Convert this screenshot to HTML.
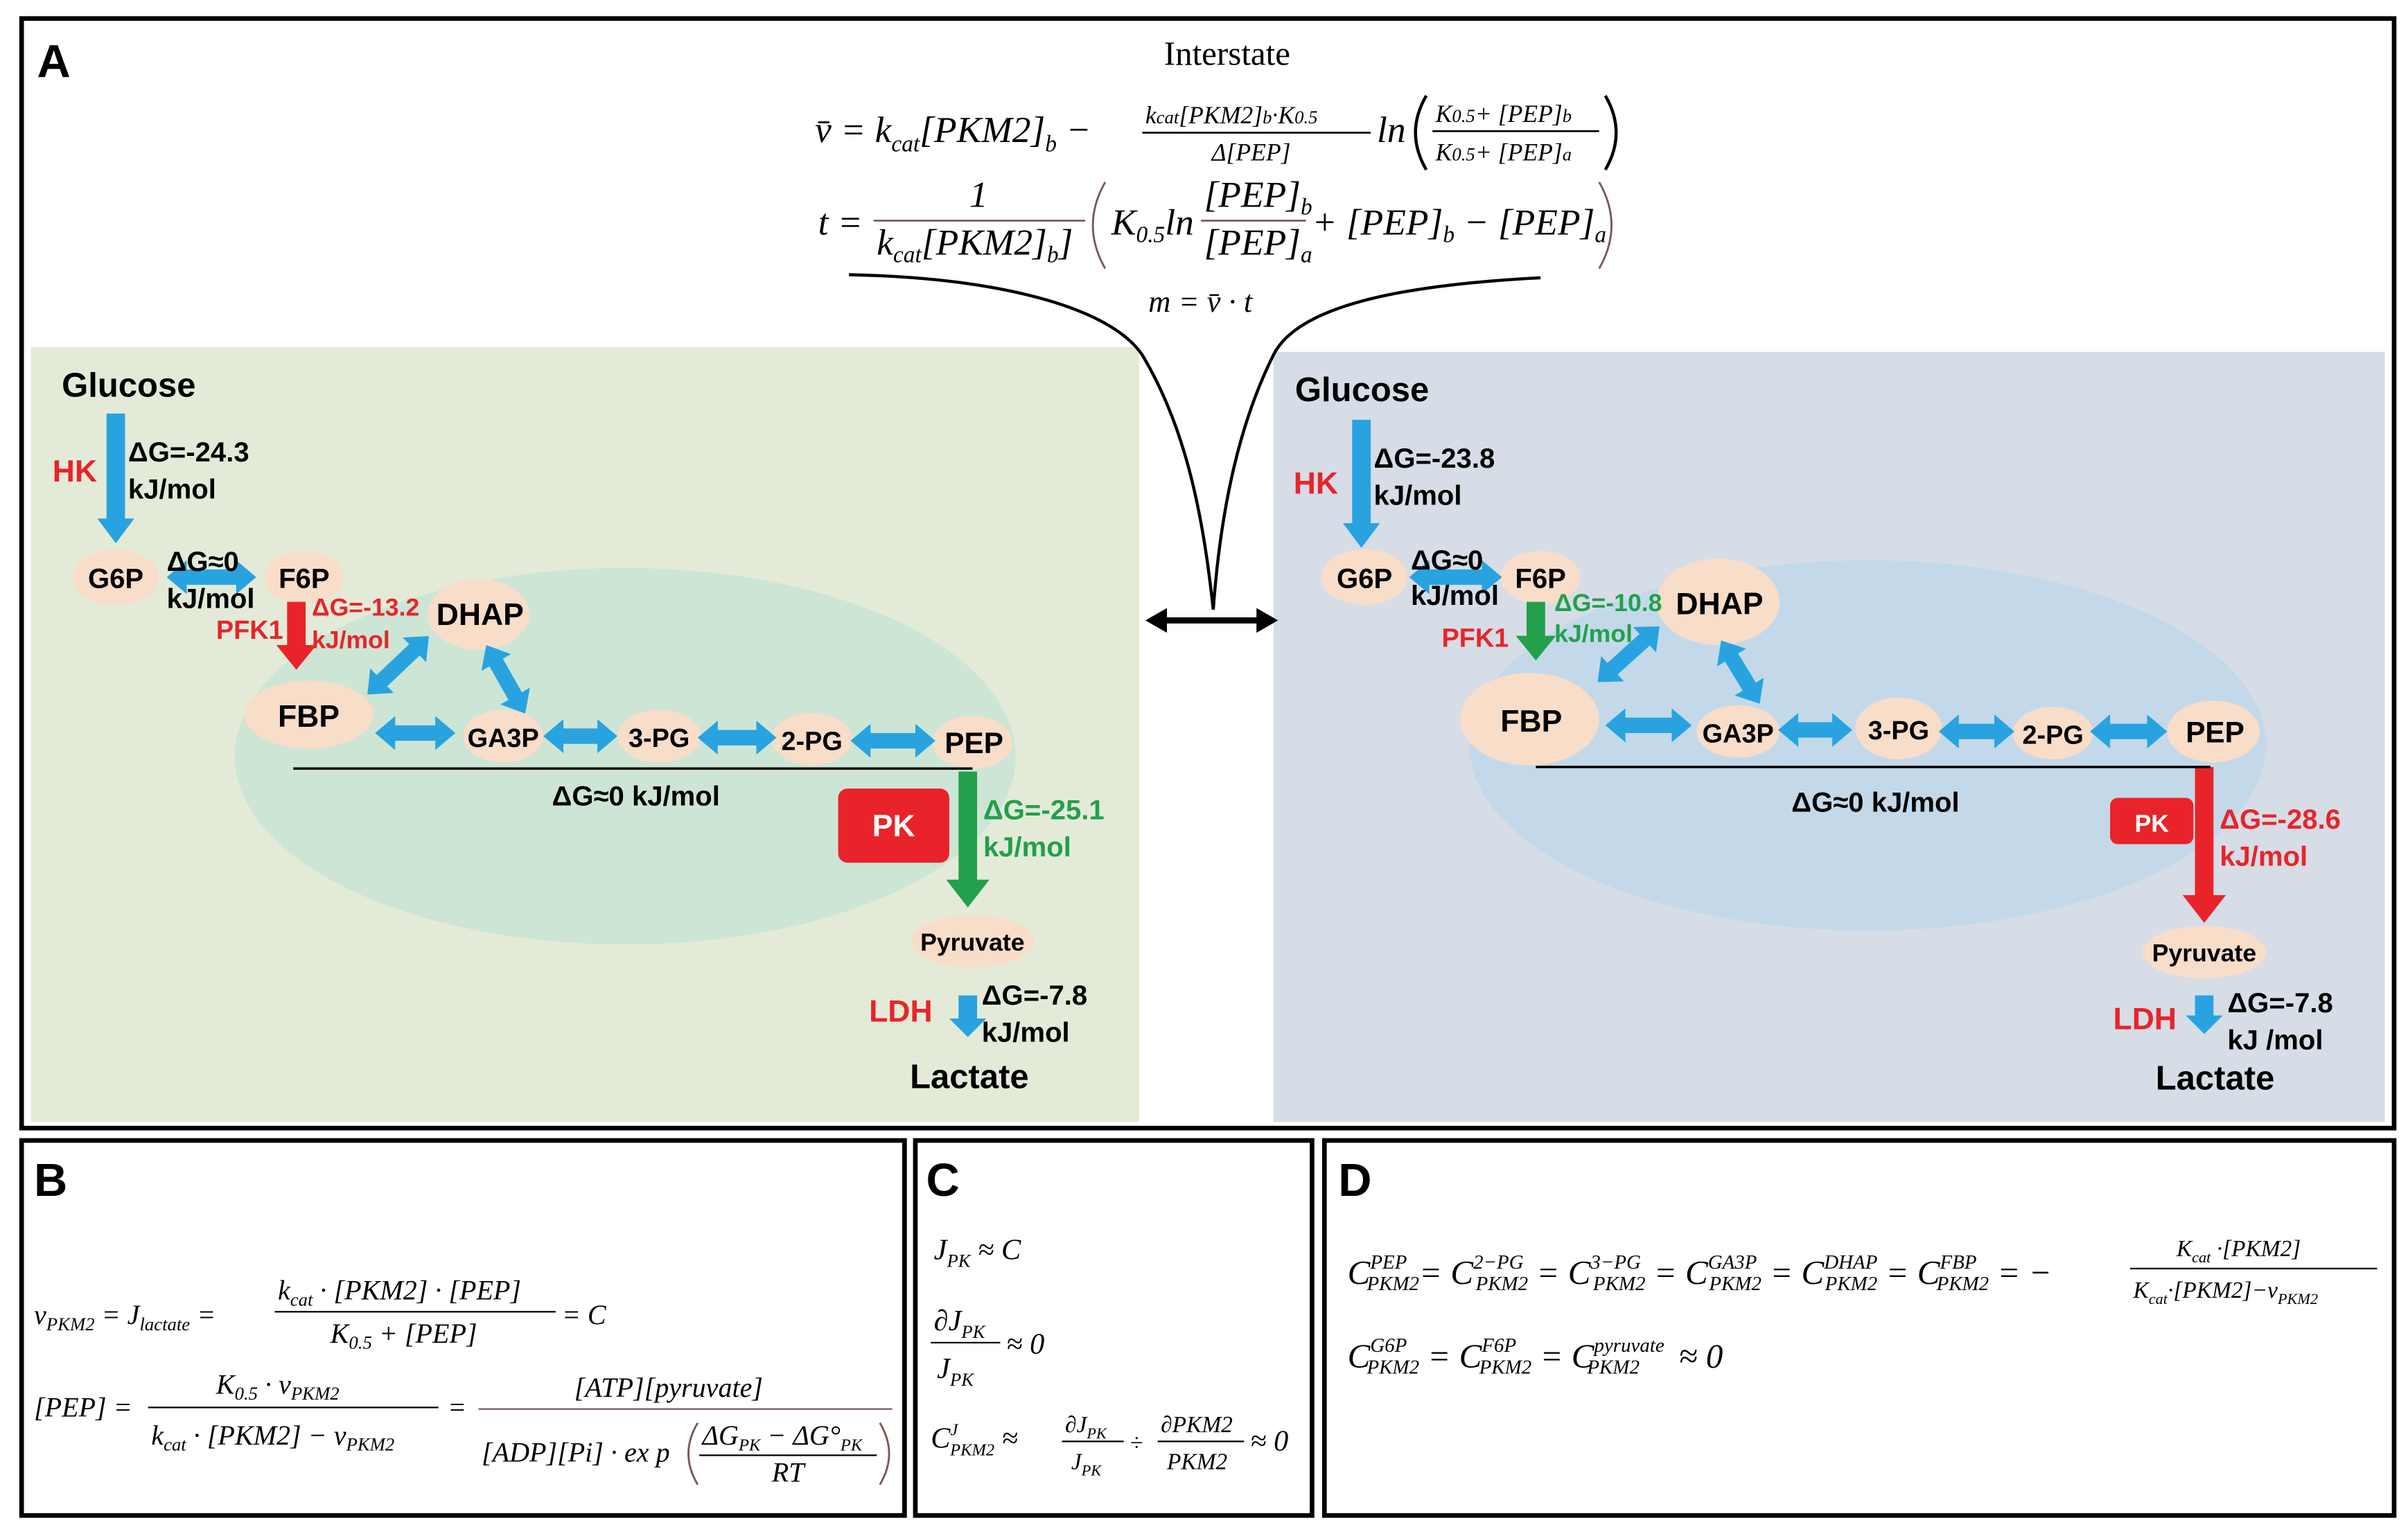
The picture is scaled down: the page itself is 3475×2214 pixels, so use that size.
<!DOCTYPE html>
<html><head><meta charset="utf-8"><style>
html,body{margin:0;padding:0;background:#fff;}
svg{display:block;}
.s{font-family:"Liberation Sans",sans-serif;font-weight:bold;}
.m{font-family:"Liberation Serif",serif;font-style:italic;}
.r{font-family:"Liberation Serif",serif;}
</style></head><body>
<svg width="3475" height="2214" viewBox="0 0 1560 994" preserveAspectRatio="none" xmlns="http://www.w3.org/2000/svg">
<rect width="1560" height="994" fill="#fff"/>
<rect x="14" y="12" width="1537" height="719" fill="none" stroke="#000" stroke-width="3"/>
<rect x="14" y="739" width="572" height="243" fill="none" stroke="#000" stroke-width="3"/>
<rect x="593" y="739" width="257" height="243" fill="none" stroke="#000" stroke-width="3"/>
<rect x="858" y="739" width="693" height="243" fill="none" stroke="#000" stroke-width="3"/>
<text x="24" y="50" class="s" font-size="30">A</text>
<text x="22" y="775" class="s" font-size="30">B</text>
<text x="600" y="775" class="s" font-size="30">C</text>
<text x="867" y="775" class="s" font-size="30">D</text>

<rect x="20" y="225" width="718" height="502" fill="#e3ebd8"/>
<rect x="825" y="228" width="720" height="499" fill="#d6dde6"/>
<ellipse cx="405" cy="490" rx="253" ry="122" fill="#cde5d5"/>
<ellipse cx="1210" cy="483" rx="258" ry="120" fill="#c3d9ea"/>

<text x="795" y="42" class="r" font-size="22" text-anchor="middle">Interstate</text>
<g class="m" font-size="24">
<text x="528" y="92">v̄ = k<tspan font-size="15" dy="6">cat</tspan><tspan dy="-6">[PKM2]</tspan><tspan font-size="15" dy="6">b</tspan><tspan dy="-6"> −</tspan></text>
<text x="742" y="80" font-size="16">k<tspan font-size="12">cat</tspan>[PKM2]<tspan font-size="12">b</tspan>·K<tspan font-size="12">0.5</tspan></text>
<line x1="740" y1="86" x2="888" y2="86" stroke="#000" stroke-width="1.2"/>
<text x="785" y="104" font-size="16">Δ[PEP]</text>
<text x="892" y="92">ln</text>
<path d="M924 62 Q910 86 924 110" fill="none" stroke="#000" stroke-width="2"/>
<text x="930" y="79" font-size="16">K<tspan font-size="12">0.5</tspan>+ [PEP]<tspan font-size="12">b</tspan></text>
<line x1="928" y1="85" x2="1036" y2="85" stroke="#000" stroke-width="1.2"/>
<text x="930" y="104" font-size="16">K<tspan font-size="12">0.5</tspan>+ [PEP]<tspan font-size="12">a</tspan></text>
<path d="M1040 62 Q1054 86 1040 110" fill="none" stroke="#000" stroke-width="2"/>
<text x="530" y="152">t =</text>
<text x="628" y="134">1</text>
<line x1="566" y1="143" x2="703" y2="143" stroke="#7a5a55" stroke-width="1.2"/>
<text x="568" y="165">k<tspan font-size="15" dy="5">cat</tspan><tspan dy="-5">[PKM2]</tspan><tspan font-size="15" dy="5">b</tspan><tspan dy="-5">]</tspan></text>
<path d="M716 118 Q700 146 716 174" fill="none" stroke="#7a5a55" stroke-width="1.3"/>
<text x="720" y="152">K<tspan font-size="15" dy="5">0.5</tspan><tspan dy="-5">ln</tspan></text>
<text x="780" y="134">[PEP]<tspan font-size="15" dy="5">b</tspan></text>
<line x1="778" y1="143" x2="846" y2="143" stroke="#7a5a55" stroke-width="1.2"/>
<text x="780" y="165">[PEP]<tspan font-size="15" dy="5">a</tspan></text>
<text x="850" y="152">+ [PEP]<tspan font-size="15" dy="5">b</tspan><tspan dy="-5"> − [PEP]</tspan><tspan font-size="15" dy="5">a</tspan></text>
<path d="M1036 118 Q1052 146 1036 174" fill="none" stroke="#7a5a55" stroke-width="1.3"/>
<text x="744" y="202" font-size="20">m = v̄ · t</text>
</g>
<path d="M550 178 C650 180 720 200 740 230 C770 280 780 340 786 395" fill="none" stroke="#000" stroke-width="2"/>
<path d="M998 180 C900 185 840 200 825 230 C800 280 790 340 786 395" fill="none" stroke="#000" stroke-width="2"/>
<polygon points="742,402 756,394 756,400 814,400 814,394 828,402 814,410 814,404 756,404 756,410" fill="#000"/>

<g fill="#f8ddc9">
<ellipse cx="75" cy="374" rx="28" ry="18"/>
<ellipse cx="197" cy="374" rx="26" ry="17"/>
<ellipse cx="310" cy="398" rx="33" ry="23"/>
<ellipse cx="200" cy="463" rx="42" ry="22"/>
<ellipse cx="326" cy="477" rx="26" ry="17"/>
<ellipse cx="427" cy="477" rx="27" ry="17"/>
<ellipse cx="526" cy="479" rx="26" ry="17"/>
<ellipse cx="630" cy="481" rx="26" ry="17"/>
<ellipse cx="630" cy="610" rx="40" ry="17"/>
</g>
<g fill="#28a3e0">
<polygon points="69,268 81,268 81,336 87,336 75,352 63,336 69,336"/>
<polygon points="621,645 633,645 633,660 639,660 627,672 615,660 621,660"/>
<g transform="translate(108,374)"><polygon points="0,0 13,-11 13,-5 45,-5 45,-11 58,0 45,11 45,5 13,5 13,11"/></g>
<g transform="translate(243,475)"><polygon points="0,0 13,-11 13,-5 39,-5 39,-11 52,0 39,11 39,5 13,5 13,11"/></g>
<g transform="translate(352,477)"><polygon points="0,0 13,-11 13,-5 35,-5 35,-11 48,0 35,11 35,5 13,5 13,11"/></g>
<g transform="translate(452,478)"><polygon points="0,0 13,-11 13,-5 38,-5 38,-11 51,0 38,11 38,5 13,5 13,11"/></g>
<g transform="translate(551,480)"><polygon points="0,0 13,-11 13,-5 42,-5 42,-11 55,0 42,11 42,5 13,5 13,11"/></g>
<g transform="translate(238,450) rotate(-43.5)"><polygon points="0,0 13,-11 13,-5 42,-5 42,-11 55,0 42,11 42,5 13,5 13,11"/></g>
<g transform="translate(315,418) rotate(60.4)"><polygon points="0,0 13,-11 13,-5 38,-5 38,-11 51,0 38,11 38,5 13,5 13,11"/></g>
</g>
<polygon points="186,390 198,390 198,418 205,418 192,434 179,418 186,418" fill="#e8242a"/>
<polygon points="621,500 633,500 633,570 641,570 627,588 613,570 621,570" fill="#22a04b"/>
<rect x="543" y="511" width="72" height="48" rx="6" fill="#e8242a"/>
<line x1="190" y1="498" x2="630" y2="498" stroke="#000" stroke-width="1.6"/>
<g class="s" font-size="18">
<text x="40" y="257" font-size="22">Glucose</text>
<text x="34" y="312" fill="#e8242a" font-size="20">HK</text>
<text x="83" y="299">ΔG=-24.3</text>
<text x="83" y="323">kJ/mol</text>
<text x="75" y="381" text-anchor="middle">G6P</text>
<text x="197" y="381" text-anchor="middle">F6P</text>
<text x="108" y="370">ΔG≈0</text>
<text x="108" y="394">kJ/mol</text>
<text x="140" y="414" fill="#e8242a" font-size="17">PFK1</text>
<text x="202" y="399" fill="#e8242a" font-size="16">ΔG=-13.2</text>
<text x="202" y="420" fill="#e8242a" font-size="16">kJ/mol</text>
<text x="311" y="405" text-anchor="middle" font-size="20">DHAP</text>
<text x="200" y="471" text-anchor="middle" font-size="20">FBP</text>
<text x="326" y="484" text-anchor="middle" font-size="17">GA3P</text>
<text x="427" y="484" text-anchor="middle" font-size="17">3-PG</text>
<text x="526" y="486" text-anchor="middle" font-size="17">2-PG</text>
<text x="631" y="488" text-anchor="middle" font-size="19">PEP</text>
<text x="412" y="522" text-anchor="middle">ΔG≈0 kJ/mol</text>
<text x="579" y="542" text-anchor="middle" fill="#fff" font-size="20">PK</text>
<text x="637" y="531" fill="#22a04b">ΔG=-25.1</text>
<text x="637" y="555" fill="#22a04b">kJ/mol</text>
<text x="630" y="616" text-anchor="middle" font-size="16">Pyruvate</text>
<text x="563" y="662" fill="#e8242a" font-size="20">LDH</text>
<text x="636" y="651">ΔG=-7.8</text>
<text x="636" y="675">kJ/mol</text>
<text x="628" y="705" text-anchor="middle" font-size="22">Lactate</text>
</g>

<g fill="#f8ddc9">
<ellipse cx="884" cy="374" rx="28" ry="18"/>
<ellipse cx="998" cy="374" rx="26" ry="17"/>
<ellipse cx="1113" cy="390" rx="40" ry="28"/>
<ellipse cx="991" cy="466" rx="45" ry="30"/>
<ellipse cx="1126" cy="474" rx="27" ry="17"/>
<ellipse cx="1230" cy="472" rx="28" ry="20"/>
<ellipse cx="1330" cy="475" rx="26" ry="17"/>
<ellipse cx="1434" cy="474" rx="30" ry="20"/>
<ellipse cx="1428" cy="617" rx="40" ry="17"/>
</g>
<g fill="#28a3e0">
<polygon points="876,272 888,272 888,339 894,339 882,355 870,339 876,339"/>
<polygon points="1422,645 1434,645 1434,658 1440,658 1428,670 1416,658 1422,658"/>
<g transform="translate(913,374)"><polygon points="0,0 13,-11 13,-5 47,-5 47,-11 60,0 47,11 47,5 13,5 13,11"/></g>
<g transform="translate(1040,470)"><polygon points="0,0 13,-11 13,-5 43,-5 43,-11 56,0 43,11 43,5 13,5 13,11"/></g>
<g transform="translate(1152,473)"><polygon points="0,0 13,-11 13,-5 35,-5 35,-11 48,0 35,11 35,5 13,5 13,11"/></g>
<g transform="translate(1256,474)"><polygon points="0,0 13,-11 13,-5 36,-5 36,-11 49,0 36,11 36,5 13,5 13,11"/></g>
<g transform="translate(1354,474)"><polygon points="0,0 13,-11 13,-5 37,-5 37,-11 50,0 37,11 37,5 13,5 13,11"/></g>
<g transform="translate(1035,442) rotate(-42)"><polygon points="0,0 13,-11 13,-5 41,-5 41,-11 54,0 41,11 41,5 13,5 13,11"/></g>
<g transform="translate(1115,415) rotate(58.6)"><polygon points="0,0 13,-11 13,-5 35,-5 35,-11 48,0 35,11 35,5 13,5 13,11"/></g>
</g>
<polygon points="989,390 1001,390 1001,412 1008,412 995,428 982,412 989,412" fill="#22a04b"/>
<polygon points="1422,497 1434,497 1434,580 1442,580 1428,598 1414,580 1422,580" fill="#e8242a"/>
<rect x="1367" y="517" width="54" height="30" rx="5" fill="#e8242a"/>
<line x1="995" y1="497" x2="1432" y2="497" stroke="#000" stroke-width="1.6"/>
<g class="s" font-size="18">
<text x="839" y="260" font-size="22">Glucose</text>
<text x="838" y="320" fill="#e8242a" font-size="20">HK</text>
<text x="890" y="303">ΔG=-23.8</text>
<text x="890" y="327">kJ/mol</text>
<text x="884" y="381" text-anchor="middle">G6P</text>
<text x="998" y="381" text-anchor="middle">F6P</text>
<text x="914" y="369">ΔG≈0</text>
<text x="914" y="392">kJ/mol</text>
<text x="934" y="419" fill="#e8242a" font-size="17">PFK1</text>
<text x="1007" y="396" fill="#22a04b" font-size="16">ΔG=-10.8</text>
<text x="1007" y="416" fill="#22a04b" font-size="16">kJ/mol</text>
<text x="1114" y="398" text-anchor="middle" font-size="20">DHAP</text>
<text x="992" y="474" text-anchor="middle" font-size="20">FBP</text>
<text x="1126" y="481" text-anchor="middle" font-size="17">GA3P</text>
<text x="1230" y="479" text-anchor="middle" font-size="17">3-PG</text>
<text x="1330" y="482" text-anchor="middle" font-size="17">2-PG</text>
<text x="1435" y="481" text-anchor="middle" font-size="19">PEP</text>
<text x="1215" y="526" text-anchor="middle">ΔG≈0 kJ/mol</text>
<text x="1394" y="539" text-anchor="middle" fill="#fff" font-size="16">PK</text>
<text x="1438" y="537" fill="#e8242a">ΔG=-28.6</text>
<text x="1438" y="561" fill="#e8242a">kJ/mol</text>
<text x="1428" y="623" text-anchor="middle" font-size="16">Pyruvate</text>
<text x="1369" y="667" fill="#e8242a" font-size="20">LDH</text>
<text x="1443" y="656">ΔG=-7.8</text>
<text x="1443" y="680">kJ /mol</text>
<text x="1435" y="706" text-anchor="middle" font-size="22">Lactate</text>
</g>

<!-- B -->
<g class="m" font-size="18">
<text x="22" y="858">v<tspan font-size="12" dy="4">PKM2</tspan><tspan dy="-4"> = J</tspan><tspan font-size="12" dy="4">lactate</tspan><tspan dy="-4"> =</tspan></text>
<text x="180" y="842">k<tspan font-size="12" dy="4">cat</tspan><tspan dy="-4"> · [PKM2] · [PEP]</tspan></text>
<line x1="178" y1="850" x2="360" y2="850" stroke="#000" stroke-width="1"/>
<text x="214" y="870">K<tspan font-size="12" dy="4">0.5</tspan><tspan dy="-4"> + [PEP]</tspan></text>
<text x="364" y="858">= C</text>
<text x="22" y="918">[PEP] =</text>
<text x="140" y="903">K<tspan font-size="12" dy="4">0.5</tspan><tspan dy="-4"> · v</tspan><tspan font-size="12" dy="4">PKM2</tspan></text>
<line x1="96" y1="912" x2="284" y2="912" stroke="#000" stroke-width="1"/>
<text x="98" y="936">k<tspan font-size="12" dy="4">cat</tspan><tspan dy="-4"> · [PKM2] − v</tspan><tspan font-size="12" dy="4">PKM2</tspan></text>
<text x="290" y="918">=</text>
<text x="372" y="905">[ATP][pyruvate]</text>
<line x1="310" y1="913" x2="578" y2="913" stroke="#7a5a55" stroke-width="1"/>
<text x="312" y="947">[ADP][Pi] · ex p</text>
<path d="M452 922 Q440 942 452 962" fill="none" stroke="#7a5a55" stroke-width="1.3"/>
<text x="455" y="936">ΔG<tspan font-size="11" dy="4">PK</tspan><tspan dy="-4"> − ΔG°</tspan><tspan font-size="11" dy="4">PK</tspan></text>
<line x1="453" y1="943" x2="568" y2="943" stroke="#000" stroke-width="1"/>
<text x="500" y="960">RT</text>
<path d="M570 922 Q582 942 570 962" fill="none" stroke="#7a5a55" stroke-width="1.3"/>
</g>
<!-- C -->
<g class="m" font-size="19">
<text x="605" y="816">J<tspan font-size="12" dy="5">PK</tspan><tspan dy="-5"> ≈ C</tspan></text>
<text x="605" y="862">∂J<tspan font-size="12" dy="5">PK</tspan></text>
<line x1="603" y1="870" x2="648" y2="870" stroke="#000" stroke-width="1"/>
<text x="607" y="893">J<tspan font-size="12" dy="5">PK</tspan></text>
<text x="652" y="877">≈ 0</text>
<text x="603" y="938">C<tspan font-size="11" dy="-8">J</tspan><tspan font-size="11" dx="-5" dy="13">PKM2</tspan><tspan dy="-5"> ≈</tspan></text>
<text x="690" y="928" font-size="15">∂J<tspan font-size="10" dy="4">PK</tspan></text>
<line x1="688" y1="934" x2="728" y2="934" stroke="#000" stroke-width="1"/>
<text x="694" y="952" font-size="15">J<tspan font-size="10" dy="4">PK</tspan></text>
<text x="732" y="940" font-size="15">÷</text>
<text x="752" y="928" font-size="15">∂PKM2</text>
<line x1="750" y1="934" x2="806" y2="934" stroke="#000" stroke-width="1"/>
<text x="756" y="952" font-size="15">PKM2</text>
<text x="810" y="940">≈ 0</text>
</g>
<!-- D -->
<g class="m" font-size="22">
<text x="873" y="832">C<tspan font-size="13" dy="-10">PEP</tspan><tspan font-size="13" dx="-26" dy="14">PKM2</tspan><tspan dy="-4">= C</tspan><tspan font-size="13" dy="-10">2−PG</tspan><tspan font-size="13" dx="-31" dy="14">PKM2</tspan><tspan dy="-4"> = C</tspan><tspan font-size="13" dy="-10">3−PG</tspan><tspan font-size="13" dx="-31" dy="14">PKM2</tspan><tspan dy="-4"> = C</tspan><tspan font-size="13" dy="-10">GA3P</tspan><tspan font-size="13" dx="-31" dy="14">PKM2</tspan><tspan dy="-4"> = C</tspan><tspan font-size="13" dy="-10">DHAP</tspan><tspan font-size="13" dx="-34" dy="14">PKM2</tspan><tspan dy="-4"> = C</tspan><tspan font-size="13" dy="-10">FBP</tspan><tspan font-size="13" dx="-26" dy="14">PKM2</tspan><tspan dy="-4"> = −</tspan></text>
<text x="1410" y="814" font-size="15">K<tspan font-size="10" dy="4">cat</tspan><tspan dy="-4"> ·[PKM2]</tspan></text>
<line x1="1380" y1="822" x2="1540" y2="822" stroke="#000" stroke-width="1"/>
<text x="1382" y="841" font-size="15">K<tspan font-size="10" dy="4">cat</tspan><tspan dy="-4">·[PKM2]−v</tspan><tspan font-size="10" dy="4">PKM2</tspan></text>
<text x="873" y="886">C<tspan font-size="13" dy="-10">G6P</tspan><tspan font-size="13" dx="-26" dy="14">PKM2</tspan><tspan dy="-4"> = C</tspan><tspan font-size="13" dy="-10">F6P</tspan><tspan font-size="13" dx="-24" dy="14">PKM2</tspan><tspan dy="-4"> = C</tspan><tspan font-size="13" dy="-10">pyruvate</tspan><tspan font-size="13" dx="-50" dy="14">PKM2</tspan><tspan dy="-4" dx="20"> ≈ 0</tspan></text>
</g>
</svg>
</body></html>
